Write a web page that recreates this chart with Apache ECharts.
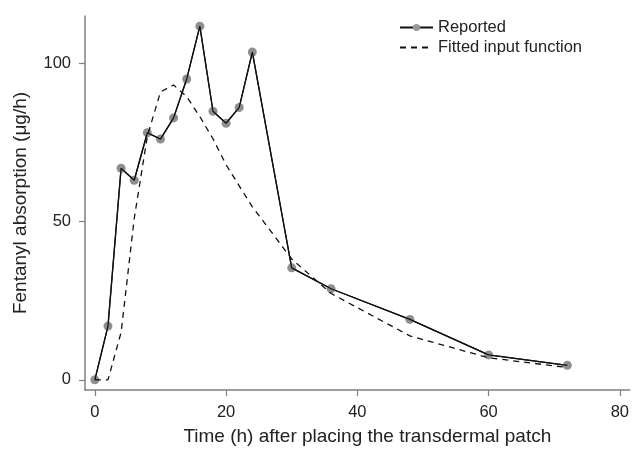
<!DOCTYPE html>
<html>
<head>
<meta charset="utf-8">
<script src="https://cdn.jsdelivr.net/npm/echarts@6/dist/echarts.min.js"></script>
<style>html,body{margin:0;padding:0;background:#fff}#c{width:632px;height:451px}</style>
</head>
<body>
<div id="c"></div>
<script>
const times = [0, 2, 4, 6, 8, 10, 12, 14, 16, 18, 20, 22, 24, 30, 36, 48, 60, 72];
const reported = [0, 17, 66.9, 63.1, 78.1, 76.1, 82.8, 95.1, 111.8, 84.9, 81.1, 86.1, 103.6, 35.4, 28.8, 19.1, 7.9, 4.6];
const fitted = [0, 0, 15, 51, 77, 91, 93.2, 89.5, 83.2, 76.2, 68, 61.3, 54.7, 38.2, 27.3, 13.9, 7.0, 3.9];
const xTicks = [0, 20, 40, 60, 80];
const yTicks = [0, 50, 100];

const pair = (xs, ys) => xs.map((x, i) => [x, ys[i]]);
const font = 'Liberation Sans, Arial, Helvetica, sans-serif';
const axisCol = '#808080';
const txtCol = '#222';

const chart = echarts.init(document.getElementById('c'), null, {renderer: 'canvas'});
chart.setOption({
  animation: false,
  backgroundColor: '#fff',
  textStyle: {fontFamily: font},
  grid: {left: 85, right: 2, top: 16, bottom: 60},
  legend: {
    left: 394, top: 14, orient: 'vertical', itemGap: 3, itemWidth: 33, itemHeight: 9,
    textStyle: {fontFamily: font, fontSize: 16.5, color: txtCol},
    data: [
      {name: 'Reported', itemStyle: {color: '#999'}},
      {name: 'Fitted input function', itemStyle: {opacity: 0}}
    ]
  },
  xAxis: {
    type: 'value', min: -1.5, max: 81.5,
    name: 'Time (h) after placing the transdermal patch',
    nameLocation: 'middle', nameGap: 37,
    nameTextStyle: {fontFamily: font, fontSize: 19, color: txtCol, padding: [0, 0, 0, 20]},
    axisLine: {show: true, onZero: false, lineStyle: {color: axisCol, width: 1.5}},
    axisTick: {show: true, length: 6, customValues: xTicks, lineStyle: {color: axisCol, width: 1.2}},
    axisLabel: {customValues: xTicks, margin: 14, fontFamily: font, fontSize: 16.5, color: txtCol},
    splitLine: {show: false}
  },
  yAxis: {
    type: 'value', min: -3.2, max: 115,
    name: 'Fentanyl absorption (\u03bcg/h)',
    nameLocation: 'middle', nameGap: 55,
    nameTextStyle: {fontFamily: font, fontSize: 19, color: txtCol},
    axisLine: {show: true, onZero: false, lineStyle: {color: axisCol, width: 1.5}},
    axisTick: {show: true, length: 6, customValues: yTicks, lineStyle: {color: axisCol, width: 1.2}},
    axisLabel: {customValues: yTicks, margin: 14, fontFamily: font, fontSize: 16.5, color: txtCol},
    splitLine: {show: false}
  },
  series: [
    {
      name: 'Reported', type: 'line', data: pair(times, reported),
      symbol: 'circle', symbolSize: 9, showSymbol: true,
      itemStyle: {color: '#8f8f8f'},
      lineStyle: {color: '#111', width: 1.3},
      z: 2
    },
    {
      name: 'ReportedLine', type: 'line', data: pair(times, reported),
      showSymbol: false, symbol: 'none',
      lineStyle: {color: '#111', width: 1.3},
      z: 4, silent: true
    },
    {
      name: 'Fitted input function', type: 'line', data: pair(times, fitted),
      showSymbol: false, symbol: 'none',
      itemStyle: {color: '#111'},
      lineStyle: {color: '#111', width: 1.3, type: [6, 5]},
      z: 3
    }
  ]
});
</script>
</body>
</html>
